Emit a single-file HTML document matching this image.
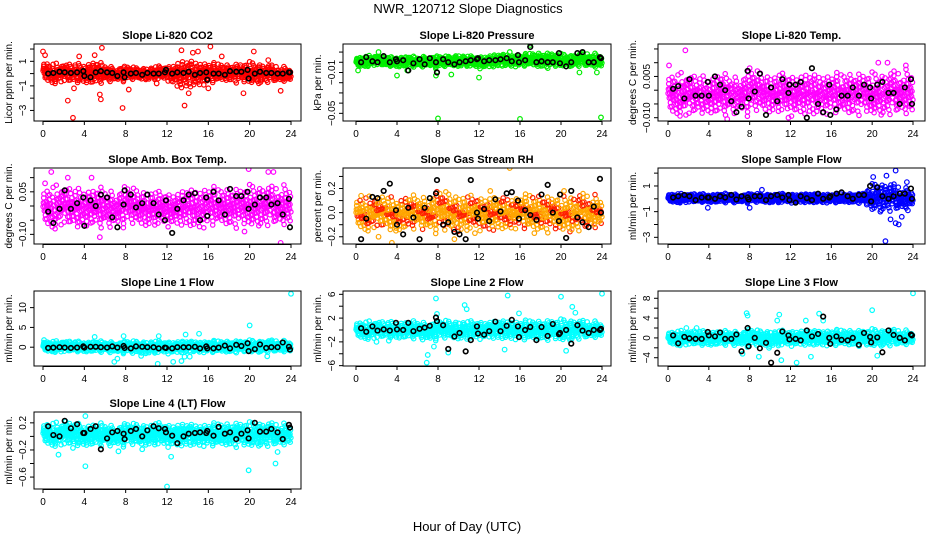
<!DOCTYPE html>
<html><head><meta charset="utf-8">
<style>
html,body{margin:0;padding:0;background:#fff;}
svg{display:block;font-family:"Liberation Sans",Arial,sans-serif;}
</style></head>
<body>
<svg id="chart" width="936" height="540" viewBox="0 0 936 540" xmlns="http://www.w3.org/2000/svg">
<rect width="936" height="540" fill="#fff"/>
<text x="468" y="13" font-size="13" text-anchor="middle">NWR_120712  Slope Diagnostics</text>
<text x="467" y="531" font-size="13" text-anchor="middle">Hour of Day (UTC)</text>
</svg>
<script>
// ---------- data ----------
const xTicks = [0,4,8,12,16,20,24];
const blackX = [0.5,1,1.6,2.1,2.7,3.3,3.9,4,4.6,5.1,5.6,6.2,6.7,7.2,7.8,7.9,8.5,9,9.6,10.1,10.7,11.2,11.8,11.9,12.5,13,13.6,14.1,14.7,15.2,15.8,15.9,16.5,17,17.6,18.1,18.7,19.2,19.8,19.9,20.5,21,21.6,22.1,22.7,23.2,23.8,23.9];

const co2Lo = [-0.6,-0.8,-0.7,-0.8,-0.8,-0.9,-0.7,-0.6,-0.6,-0.5,-0.5,-0.5,-0.5,-1.2,-1.2,-1.0,-0.8,-0.6,-0.6,-0.7,-0.8,-0.8,-0.7,-0.7,-0.5];
const co2Hi = [1.0,0.8,0.8,0.8,0.9,1.0,0.7,0.6,0.6,0.5,0.5,0.6,0.6,1.0,1.1,1.0,0.9,0.8,0.7,0.8,0.9,0.8,0.7,0.6,0.3];
const co2OutX = [0,0.2,2.4,2.9,3,3.5,5,5.7,5.5,5.6,7.7,8.3,13.4,13.7,14.1,14.5,15,16.2,16,19.4,20.4,21.8,23,11,17.3];
const co2OutY = [1.8,1.5,-2.2,-3.6,-1.2,1.4,1.5,2.1,-1.7,-2.1,-2.8,-1.3,1.9,-2.6,-1.6,1.7,1.8,2.2,-1.2,-1.6,1.8,1.1,-1.4,-0.8,1.4];
const co2Black = [0,0.05,0.15,0.1,0.05,0.1,0.2,-0.2,-0.3,0.1,0.2,0.1,0.05,-0.2,0.1,-0.3,0,0.05,-0.1,0.05,0,0,0.1,0.3,0,0.1,0.05,0.15,-0.1,0.05,0.1,-0.5,0,0,-0.1,0.2,0.15,0.15,0.3,-0.4,0,0.15,0.05,0.05,0,0,0.1,0.1];

const presLo = [-0.005,-0.004,-0.003,-0.004,-0.005,-0.004,-0.005,-0.004,-0.006,-0.004,-0.004,-0.004,-0.006,-0.005,-0.004,-0.004,-0.004,-0.003,-0.005,-0.005,-0.004,-0.004,-0.004,-0.005,-0.004];
const presHi = [0.005,0.006,0.007,0.005,0.006,0.006,0.005,0.007,0.006,0.006,0.008,0.006,0.006,0.007,0.008,0.008,0.007,0.009,0.009,0.009,0.008,0.007,0.009,0.009,0.006];
const presOutX = [8,16,23.9,4,9.3,12,0.2,5,17,2.2,15,7.8,21.8,23.5];
const presOutY = [-0.055,-0.0555,-0.054,-0.013,-0.012,-0.015,-0.008,-0.008,0.017,0.010,0.010,-0.013,-0.010,-0.010];
const presBlack = [0,0.005,0.001,0,0.006,0,0.003,0.001,0.002,-0.008,-0.001,0.003,-0.002,0.004,0,-0.01,0.003,0,-0.002,0,0.001,0.002,0.003,0.004,0.001,0.002,0.002,0.003,0.004,0.001,0.007,0,0.002,0.015,0,0.001,0,0,0.009,-0.001,-0.004,0,0.009,0.010,0,0,0.005,0.004];

const tempLo = [-0.009,-0.009,-0.010,-0.009,-0.009,-0.009,-0.009,-0.008,-0.009,-0.008,-0.008,-0.008,-0.009,-0.009,-0.009,-0.009,-0.008,-0.008,-0.009,-0.008,-0.009,-0.009,-0.009,-0.009,-0.008];
const tempHi = [0.006,0.006,0.006,0.005,0.006,0.006,0.005,0.006,0.007,0.007,0.006,0.006,0.006,0.006,0.006,0.006,0.006,0.006,0.006,0.006,0.006,0.006,0.007,0.007,0.006];
const tempOutX = [1.7,5.8,0.1,11.8,20.6,21.5,23.3,8];
const tempOutY = [0.0145,-0.0105,0.009,-0.010,0.010,0.010,0.009,0.008];
const tempBlack = [0.0005,0.0015,-0.003,0.004,-0.002,-0.002,0.003,-0.002,0.005,0.002,0,-0.004,-0.008,-0.006,0.007,-0.003,-0.0005,0.006,-0.009,0.001,-0.004,0.004,-0.001,0.002,0.002,0.003,-0.010,0.008,-0.005,-0.008,0.002,-0.009,-0.007,-0.002,-0.002,0.001,-0.002,0.002,0.001,-0.003,0.002,0.003,-0.001,-0.001,-0.005,0.001,0.004,-0.005];

const ambLo = [-0.07,-0.08,-0.07,-0.08,-0.08,-0.07,-0.08,-0.07,-0.07,-0.07,-0.07,-0.07,-0.07,-0.07,-0.07,-0.08,-0.07,-0.06,-0.07,-0.07,-0.07,-0.07,-0.07,-0.07,-0.06];
const ambHi = [0.06,0.07,0.07,0.06,0.07,0.06,0.06,0.06,0.07,0.06,0.06,0.05,0.05,0.05,0.06,0.06,0.07,0.06,0.06,0.06,0.07,0.07,0.07,0.07,0.06];
const ambOutX = [0.8,5.5,19.9,23,21.8,22.3,19.5,0.2,2.4,4.7];
const ambOutY = [0.12,-0.11,0.13,-0.13,0.12,0.12,-0.09,0.08,0.10,0.10];
const ambBlack = [-0.02,-0.06,-0.01,0.055,-0.01,0.01,0.03,-0.07,0.02,0,0.04,0.03,-0.04,-0.075,0.005,0.055,0.04,-0.005,0.01,0.04,0.01,-0.03,-0.05,0.02,-0.095,-0.01,0.02,0.04,0.045,-0.05,0.03,-0.035,0.05,0.02,-0.03,0.06,0.035,0.035,0.05,-0.01,0.005,0.03,0.03,0.005,0.01,-0.03,0.025,-0.075];

const rhLo = [-0.13,-0.15,-0.13,-0.15,-0.16,-0.14,-0.13,-0.15,-0.16,-0.17,-0.16,-0.15,-0.14,-0.16,-0.14,-0.14,-0.12,-0.14,-0.15,-0.15,-0.15,-0.16,-0.15,-0.14,-0.10];
const rhHi = [0.12,0.13,0.13,0.14,0.13,0.14,0.13,0.15,0.18,0.17,0.16,0.14,0.14,0.14,0.13,0.13,0.14,0.15,0.14,0.13,0.14,0.14,0.16,0.15,0.10];
const rhOutX = [15,3.5,9.6,0.5,2.2,11.6,13.1,17.4,20.3,3.9];
const rhOutY = [0.37,-0.25,-0.22,0.14,-0.20,-0.17,0.18,-0.17,0.18,-0.15];
const rhBlack = [-0.22,-0.05,0.13,0.12,0.18,0.24,0.02,-0.1,-0.18,0.04,-0.04,-0.22,0.04,0.12,0.16,0.27,-0.1,-0.08,-0.16,-0.18,-0.22,0.27,0,-0.05,0.03,-0.07,0.11,0.01,0.16,0.17,0.1,-0.05,0.02,-0.02,-0.06,0.15,0.23,0,-0.07,0.15,-0.21,0.18,-0.04,-0.08,-0.12,0.05,0.28,0];

const flowLo = [-0.3,-0.3,-0.3,-0.3,-0.3,-0.3,-0.3,-0.3,-0.3,-0.3,-0.3,-0.3,-0.3,-0.3,-0.3,-0.3,-0.3,-0.3,-0.3,-0.3,-0.8,-0.9,-1.0,-0.9,-0.4];
const flowHi = [0.4,0.4,0.4,0.4,0.4,0.4,0.4,0.4,0.4,0.4,0.4,0.4,0.4,0.4,0.4,0.4,0.4,0.4,0.4,0.4,1.1,1.2,1.2,0.9,0.5];
const flowOutX = [21.3,21.8,22.3,22.6,22.3,21.4,20.1,23.4,20,23.5,3.9,8,20.8,22.9,9.2];
const flowOutY = [-3.3,-1.6,-1.9,-2.0,2.2,1.8,1.7,1.3,-0.8,-0.9,-0.7,-0.7,-1.0,-1.4,0.7];
const flowBlack = [0.1,0.2,0.3,0.2,-0.1,0.1,0.1,0.1,0,0.2,0.1,0.3,-0.05,0.2,0.1,-0.05,0.2,0.2,-0.1,0.2,0.3,0.1,0.3,-0.1,-0.3,0.2,0.05,-0.1,0.4,0,0.1,0.2,0.4,0.5,0.2,0,0.3,0.3,1,-0.2,0.9,0.2,0,0.2,0.4,0.4,0.8,0];

const l1Lo = [-1.2,-1.2,-1.3,-1.2,-1.3,-1.2,-1.3,-1.4,-1.5,-1.8,-1.6,-1.5,-1.6,-1.5,-1.3,-1.3,-1.3,-1.2,-1.3,-1.2,-1.3,-1.2,-1.3,-1.2,-1.0];
const l1Hi = [1.6,1.5,1.6,1.5,1.6,1.5,1.4,1.6,1.5,1.6,1.6,1.6,1.5,1.6,1.6,1.5,1.6,1.6,1.5,1.6,1.7,1.6,1.8,1.7,1.2];
const l1OutX = [24,20,6.9,7.2,11.1,12.6,13.4,13.7,14.2,13.8,15.1,11.2,7.8,5,21.7,9.5,0.1];
const l1OutY = [13.5,5.5,-3.7,-2.9,-4.2,-3.7,-3.5,-2.4,-2.4,3.2,3.4,2.8,2.8,2.6,-2.3,-2.2,1.8];
const l1Black = [-0.2,-0.1,0,-0.1,-0.2,-0.1,0.2,-0.1,0.1,0.1,0,-0.1,0.2,-0.1,0.3,-0.2,-0.3,0.2,0.1,0,0,-0.3,-0.1,-0.2,-0.3,0,0,0,0.1,-0.3,0.2,-0.3,-0.3,-0.1,0.4,-0.3,0.6,0.3,1,-1,-0.5,0.7,-0.2,0,0,1.2,0.1,-0.6];

const l2Lo = [-1.4,-1.5,-1.5,-1.4,-1.5,-1.4,-1.5,-1.8,-1.6,-1.5,-1.5,-1.6,-1.5,-1.4,-1.5,-1.5,-1.6,-1.6,-1.6,-1.5,-1.8,-1.7,-1.5,-1.4,-1.0];
const l2Hi = [1.4,1.4,1.5,1.4,1.5,1.4,1.4,1.5,1.5,1.6,1.6,1.5,1.5,1.5,1.6,1.6,1.5,1.6,1.5,1.6,1.7,1.7,1.6,1.5,1.0];
const l2OutX = [6.9,7,7.6,7.8,7.9,9,10.6,10.8,14.5,14.8,20,20.5,24,21.1,21.4,15.9,2,3.2];
const l2OutY = [-5.5,-4.2,-2.8,5.3,2.7,-3.8,4.2,3.5,-3.3,5.8,5.6,-3.5,6.1,3.9,2.9,2.8,-2,-1.8];
const l2Black = [0.3,-0.3,0.6,-0.1,0.1,-0.1,1.2,0.1,0,1.2,-0.2,0.2,0.4,0.7,2.1,1.5,0.8,-3.2,-1.1,-0.5,-3.6,-1.7,0.6,-0.6,-0.8,-0.2,1.4,-0.2,0.7,1.7,0.6,-1.2,0,0.5,-1.7,0.5,-1,1,-0.7,-0.5,0,-2.3,0.8,-0.1,-0.5,0,0,0.2];

const l3Lo = [-1.4,-1.5,-1.5,-1.6,-1.6,-1.5,-1.4,-1.6,-1.7,-1.6,-1.7,-1.6,-1.6,-1.5,-1.5,-1.5,-1.5,-1.4,-1.5,-1.5,-1.7,-1.6,-1.6,-1.5,-1.0];
const l3Hi = [1.3,1.4,1.4,1.5,1.5,1.4,1.3,1.6,1.7,1.5,1.6,1.5,1.5,1.6,1.5,1.6,1.6,1.6,1.5,1.5,1.7,1.6,1.7,1.6,1.0];
const l3OutX = [24,7.7,7.8,10.7,10.9,11.1,12.6,13.5,14.8,15.2,14,8.9,20,20.5,7.3,9.9,1.8,2.8];
const l3OutY = [9,5,4.5,3.5,4.7,-4.5,-5,3.5,4.9,3.5,-3.8,-3.8,5.6,-3.6,-3.2,-2,2,2];
const l3Black = [0.5,-1.1,0.2,-0.1,-0.2,-0.2,1.2,0.5,0.3,1.1,-0.2,-0.2,0.7,-2.7,2,-1.7,0,-2.1,-1,-5,-3,1.3,0.5,-0.3,-0.2,-0.5,1.5,0.3,0.8,4.3,0,-1.2,0.3,-0.4,-0.5,0,-1.4,1,0.2,-0.9,0.1,-2.9,1.5,0.6,0,-0.5,0.7,0.5];

const l4Lo = [-0.12,-0.14,-0.14,-0.15,-0.15,-0.14,-0.14,-0.14,-0.14,-0.14,-0.13,-0.13,-0.15,-0.15,-0.14,-0.14,-0.14,-0.13,-0.14,-0.14,-0.15,-0.14,-0.15,-0.14,-0.10];
const l4Hi = [0.2,0.2,0.2,0.2,0.19,0.19,0.18,0.18,0.19,0.19,0.19,0.2,0.19,0.19,0.19,0.18,0.19,0.19,0.19,0.2,0.2,0.2,0.2,0.19,0.15];
const l4OutX = [12,19.9,4.1,22.5,1.5,2.2,4.1,12.4,22.7,7.3,2.9,9.6];
const l4OutY = [-0.74,-0.5,-0.44,-0.4,-0.27,0.22,0.3,-0.3,-0.23,-0.22,-0.17,-0.19];
const l4Black = [0.15,0.02,0,0.23,0.12,0.18,0.05,0.05,0.11,0.15,-0.19,-0.03,0.06,0.08,0.04,-0.04,0.08,0.11,0,0.09,0.15,0.12,0.11,0.06,0.01,-0.1,0,0.04,0.05,0.06,0.05,0.08,0.01,0.14,0.04,0.06,-0.04,0.04,0.09,-0.03,0.2,0.07,0.07,0.11,0.06,-0.04,0.17,0.13];

// ---------- layout ----------
const cols = [{L:34,R:301,x0:43,x24:291},{L:343,R:611,x0:356,x24:602},{L:658,R:925,x0:668,x24:913}];
const rows = [{T:44,B:121},{T:168,B:244},{T:291,B:366},{T:412,B:489}];
const panels = [
 {id:'co2',c:0,r:0,title:'Slope Li-820 CO2',yl:'Licor ppm per min.',dom:[-3.86,2.41],ticks:[-3,-2,-1,0,1,2],labs:[-3,-1,1],fmt:v=>v<0?'\u2212'+(-v):''+v,col:'#ff0000',lo:co2Lo,hi:co2Hi,ox:co2OutX,oy:co2OutY,bk:co2Black},
 {id:'pressure',c:1,r:0,title:'Slope Li-820 Pressure',yl:'kPa per min.',dom:[-0.0575,0.0179],ticks:[-0.05,-0.04,-0.03,-0.02,-0.01,0,0.01],labs:[-0.05,-0.01],fmt:v=>'\u2212'+(-v).toFixed(2),col:'#00ee00',lo:presLo,hi:presHi,ox:presOutX,oy:presOutY,bk:presBlack},
 {id:'temp',c:2,r:0,title:'Slope Li-820 Temp.',yl:'degrees C per min.',dom:[-0.0112,0.0168],ticks:[-0.01,-0.005,0,0.005,0.01,0.015],labs:[-0.01,0.005],fmt:v=>v<0?'\u2212'+(-v).toFixed(3):v.toFixed(3),col:'#ff00ff',lo:tempLo,hi:tempHi,ox:tempOutX,oy:tempOutY,bk:tempBlack},
 {id:'amb-box-temp',c:0,r:1,title:'Slope Amb. Box Temp.',yl:'degrees C per min.',dom:[-0.134,0.134],ticks:[-0.1,-0.05,0,0.05,0.1],labs:[-0.1,0.05],fmt:v=>v<0?'\u2212'+(-v).toFixed(2):v.toFixed(2),col:'#ff00ff',lo:ambLo,hi:ambHi,ox:ambOutX,oy:ambOutY,bk:ambBlack},
 {id:'gas-stream-rh',c:1,r:1,title:'Slope Gas Stream RH',yl:'percent per min.',dom:[-0.26,0.37],ticks:[-0.2,-0.1,0,0.1,0.2,0.3],labs:[-0.2,0,0.2],fmt:v=>v<0?'\u2212'+(-v).toFixed(1):v.toFixed(1),col:'#ffa500',alt:'#ff2000',lo:rhLo,hi:rhHi,ox:rhOutX,oy:rhOutY,bk:rhBlack},
 {id:'sample-flow',c:2,r:1,title:'Slope Sample Flow',yl:'ml/min per min.',dom:[-3.52,2.4],ticks:[-3,-2,-1,0,1,2],labs:[-3,-1,1],fmt:v=>v<0?'\u2212'+(-v):''+v,col:'#0000ff',lo:flowLo,hi:flowHi,ox:flowOutX,oy:flowOutY,bk:flowBlack},
 {id:'line1-flow',c:0,r:2,title:'Slope Line 1 Flow',yl:'ml/min per min.',dom:[-4.75,14.2],ticks:[0,5,10],labs:[0,5,10],fmt:v=>''+v,col:'#00ffff',lo:l1Lo,hi:l1Hi,ox:l1OutX,oy:l1OutY,bk:l1Black},
 {id:'line2-flow',c:1,r:2,title:'Slope Line 2 Flow',yl:'ml/min per min.',dom:[-6.06,6.56],ticks:[-6,-4,-2,0,2,4,6],labs:[-6,-2,2,6],fmt:v=>v<0?'\u2212'+(-v):''+v,col:'#00ffff',lo:l2Lo,hi:l2Hi,ox:l2OutX,oy:l2OutY,bk:l2Black},
 {id:'line3-flow',c:2,r:2,title:'Slope Line 3 Flow',yl:'ml/min per min.',dom:[-5.67,9.47],ticks:[-4,-2,0,2,4,6,8],labs:[-4,0,4,8],fmt:v=>v<0?'\u2212'+(-v):''+v,col:'#00ffff',lo:l3Lo,hi:l3Hi,ox:l3OutX,oy:l3OutY,bk:l3Black},
 {id:'line4-flow',c:0,r:3,title:'Slope Line 4 (LT) Flow',yl:'ml/min per min.',dom:[-0.776,0.36],ticks:[-0.6,-0.4,-0.2,0,0.2],labs:[-0.6,-0.2,0.2],fmt:v=>v<0?'\u2212'+(-v).toFixed(1):v.toFixed(1),col:'#00ffff',lo:l4Lo,hi:l4Hi,ox:l4OutX,oy:l4OutY,bk:l4Black}
];

const NS='http://www.w3.org/2000/svg';
const svg=document.getElementById('chart');
function mk(tag,attrs,parent){const e=document.createElementNS(NS,tag);for(const k in attrs)e.setAttribute(k,attrs[k]);(parent||svg).appendChild(e);return e;}

panels.forEach(p=>{
  const C=cols[p.c],R=rows[p.r];
  const xs=h=>C.x0+(C.x24-C.x0)*h/24;
  const ys=v=>R.B-(v-p.dom[0])/(p.dom[1]-p.dom[0])*(R.B-R.T);
  const g=mk('g',{});
  
  
  const clipId='clip-'+p.id;
  const cp=mk('clipPath',{id:clipId},g);
  mk('rect',{x:C.L,y:R.T,width:C.R-C.L,height:R.B-R.T},cp);
  const pts=mk('g',{'clip-path':'url(#'+clipId+')',fill:'none','stroke-width':1.2},g);
  
  
  let i=0;
  for(let h=0;h<24;h++){
    for(let k=0;k<34;k++){
      i++;
      const fx=(i*0.6180339)%1, fa=(i*0.7548776)%1, fb=(i*0.5698403)%1;
      const x=h+fx;
      const lo=p.lo[h]+(p.lo[h+1]-p.lo[h])*fx, hi=p.hi[h]+(p.hi[h+1]-p.hi[h])*fx;
      const s=(fa+fb-1)*1.15;
      const y=(lo+hi)/2+(hi-lo)/2*s;
      const c=mk('circle',{cx:xs(x).toFixed(1),cy:ys(y).toFixed(1),r:2.2,stroke:(p.alt&&i%3===0)?p.alt:p.col},pts);
      
      
    }
  }
  p.ox.forEach((x,j)=>{
    const c=mk('circle',{cx:xs(x),cy:ys(p.oy[j]),r:2.3,stroke:p.col},pts);
    
    
  });
  p.bk.forEach((v,j)=>{
    const c=mk('circle',{cx:xs(blackX[j]),cy:ys(v),r:2.3,stroke:'#000','stroke-width':1.6},pts);
    
    
  });
  const fr=mk('rect',{x:C.L,y:R.T,width:C.R-C.L,height:R.B-R.T,fill:'none',stroke:'#000','stroke-width':1},g);
  
  
  const t=mk('text',{x:(C.L+C.R)/2,y:R.T-5,'font-size':11,'font-weight':'bold','text-anchor':'middle'},g);
  t.textContent=p.title;
  
  
  const yl=mk('text',{transform:`translate(${C.L-22},${(R.T+R.B)/2}) rotate(-90)`,'font-size':10,'text-anchor':'middle'},g);
  yl.textContent=p.yl;
  
  
  const xa=mk('g',{stroke:'#000','stroke-width':1},g);
  
  
  mk('line',{x1:xs(0),x2:xs(24),y1:R.B+0.5,y2:R.B+0.5},xa);
  xTicks.forEach(h=>{
    mk('line',{x1:xs(h),x2:xs(h),y1:R.B,y2:R.B+4},xa);
    const tl=mk('text',{x:xs(h),y:R.B+16,'font-size':10,'text-anchor':'middle',stroke:'none',fill:'#000'},g);
    tl.textContent=h;
    
    
  });
  const ya=mk('g',{stroke:'#000','stroke-width':1},g);
  
  
  p.ticks.forEach(v=>{
    mk('line',{x1:C.L-4,x2:C.L,y1:ys(v),y2:ys(v)},ya);
  });
  p.labs.forEach(v=>{
    const tl=mk('text',{transform:`translate(${C.L-8},${ys(v)}) rotate(-90)`,'font-size':10,'text-anchor':'middle'},g);
    tl.textContent=p.fmt(v);
    
    
  });
});
</script>
</body></html>
